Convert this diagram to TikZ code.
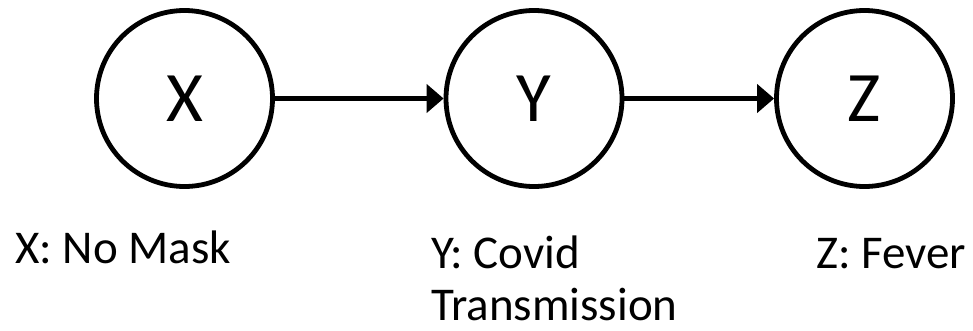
\documentclass[tikz,border=0pt]{standalone}
\usepackage{fontspec}
\setmainfont{Carlito}
\usetikzlibrary{arrows.meta}
\begin{document}
\begin{tikzpicture}[x=1pt,y=-1pt,
  var/.style={circle,draw=black,line width=4.8pt,minimum size=176pt,inner sep=0pt,
    font=\fontsize{71}{80}\selectfont},
  edge/.style={line width=5pt,-{Triangle[length=17pt,width=28pt]}},
  lab/.style={anchor=base west,inner sep=0pt,font=\fontsize{47}{56}\selectfont}]
\useasboundingbox[fill=white] (0,0) rectangle (973,330);
\node[var] (X) at (184.5,98.5) {X};
\node[var] (Y) at (534,98.5) {Y};
\node[var] (Z) at (864.5,98.5) {Z};
\draw[edge] (X) -- (Y);
\draw[edge] (Y) -- (Z);
\node[lab] (lx) at (15,263) {X: No Mask};
\node[lab] (ly1) at (431,268) {Y: Covid};
\node[lab] (ly2) at (431,320) {Transmission};
\node[lab] (lz) at (816,268) {Z: Fever};
\end{tikzpicture}
\end{document}
